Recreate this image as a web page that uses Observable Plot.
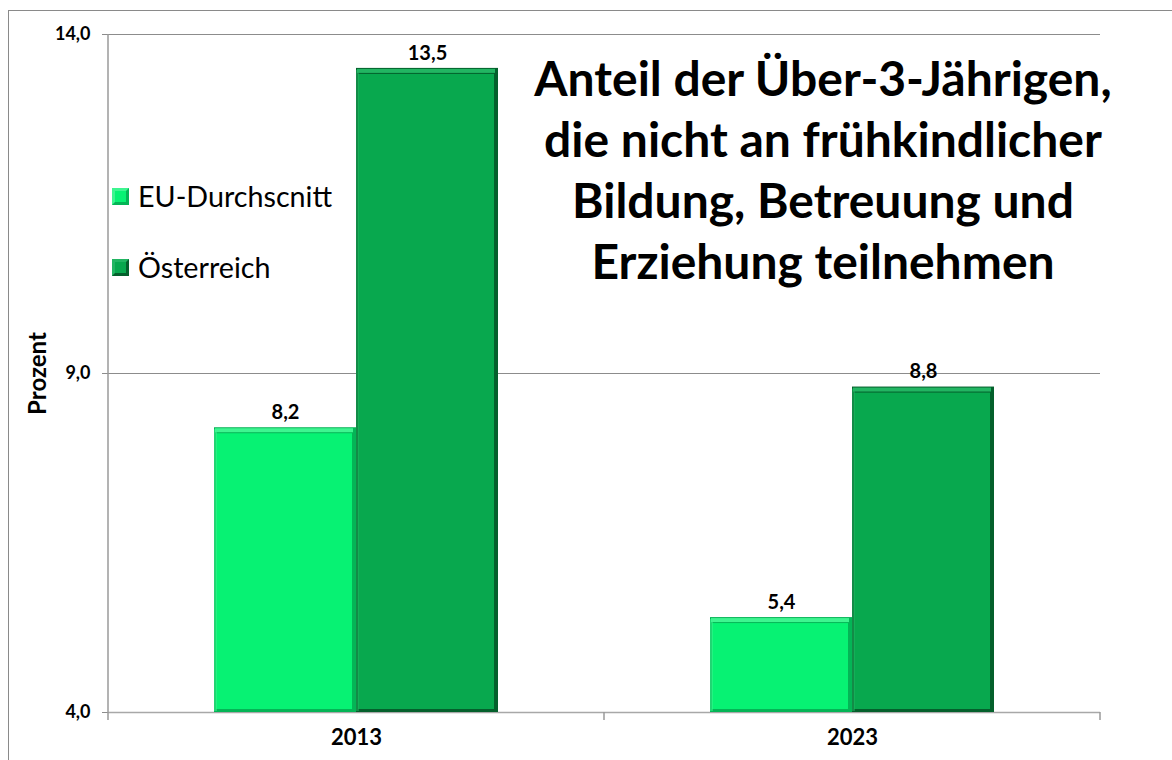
<!DOCTYPE html>
<html>
<head>
<meta charset="utf-8">
<script src="https://cdn.jsdelivr.net/npm/d3@7"></script>
<script src="https://cdn.jsdelivr.net/npm/@observablehq/plot@0.6"></script>
<style>
  html, body { margin: 0; padding: 0; background: #fff; overflow: hidden; }
  #wrap { position: relative; width: 1172px; height: 760px; font-family: Lato, "DejaVu Sans", sans-serif; }
  #frame { position: absolute; left: 8px; top: 10px; width: 1300px; height: 900px; border-left: 1.5px solid #8a8a8a; border-top: 1.5px solid #8a8a8a; }
  #chart { position: absolute; left: 0; top: 0; }
  #title { position: absolute; left: 423px; top: 47px; width: 800px; text-align: center; font-size: 48px; font-weight: bold; line-height: 61px; color: #000; }
  .leg { position: absolute; font-size: 28.7px; color: #000; line-height: 30px; }
  .sw { position: absolute; width: 17px; height: 17px; box-sizing: border-box; border-style: solid; border-width: 3px; }
  #chart svg g[aria-label="y-axis label"] text { font-size: 24px; font-weight: bold; }
  #chart svg g[aria-label="fx-axis tick label"] text { font-size: 22px; font-weight: bold; }
  #chart svg g[aria-label="text"] text { font-size: 20px; font-weight: bold; }
</style>
</head>
<body>
<div id="wrap">
  <div id="frame"></div>
  <div id="chart"></div>
  <div id="title">Anteil der Über-3-Jährigen,<br>die nicht an frühkindlicher<br>Bildung, Betreuung und<br>Erziehung teilnehmen</div>
</div>
<script>
const years = ["2013", "2023"];
const series = ["EU-Durchscnitt", "Österreich"];
const euValues = [8.2, 5.4];
const atValues = [13.5, 8.8];
const yTicks = [4, 9, 14];

const mainColor = {"EU-Durchscnitt": "#07f273", "Österreich": "#08a84e"};
const lightColor = {"EU-Durchscnitt": "#3ef590", "Österreich": "#22b562"};
const darkColor = {"EU-Durchscnitt": "#04b556", "Österreich": "#04602c"};

const data = [];
years.forEach((yr, i) => {
  data.push({year: yr, series: series[0], value: euValues[i]});
  data.push({year: yr, series: series[1], value: atValues[i]});
});
const fmt = v => v.toFixed(1).replace(".", ",");

const plot = Plot.plot({
  width: 1172,
  height: 760,
  marginLeft: 108,
  marginRight: 72,
  marginTop: 34,
  marginBottom: 48,
  style: {fontFamily: "Lato, 'DejaVu Sans', sans-serif", background: "transparent", overflow: "visible"},
  fx: {domain: years, padding: 0, label: null},
  x: {domain: series, paddingInner: 0, paddingOuter: 0.746, axis: null},
  y: {domain: [4, 14], axis: null},
  marks: [
    Plot.ruleY([9, 14], {stroke: "#8c8c8c", strokeWidth: 1.2}),
    Plot.ruleY([4], {stroke: "#a8a8a8", strokeWidth: 1.5}),
    Plot.barY(data, {fx: "year", x: "series", y1: 4, y2: "value", fill: d => darkColor[d.series]}),
    Plot.barY(data, {fx: "year", x: "series", y1: 4, y2: "value", fill: d => mainColor[d.series], insetLeft: 2, insetRight: 4, insetTop: 6, insetBottom: 3}),
    Plot.barY(data, {fx: "year", x: "series", y1: "value", y2: "value", fill: d => lightColor[d.series], insetLeft: 1, insetRight: 3, insetTop: 1, insetBottom: -5}),
    Plot.barY(data, {fx: "year", x: "series", y1: 4, y2: "value", fill: d => lightColor[d.series], fillOpacity: 0.5, insetLeft: 0, insetRight: 139, insetTop: 2, insetBottom: 1}),
    Plot.text(data, {fx: "year", x: "series", y: "value", text: d => fmt(d.value), dy: -15, fontSize: 20, fontWeight: "bold", fill: "#000"}),
    Plot.axisY({ticks: yTicks, tickFormat: fmt, tickSize: 6, tickPadding: 12, fontSize: 18, fontWeight: "bold", stroke: "#8c8c8c", label: null, fill: "#000"}),
    Plot.axisY({ticks: [], label: "Prozent", labelAnchor: "center", labelArrow: "none", labelOffset: 80, fontSize: 24, fontWeight: "bold", fill: "#000"}),
    Plot.axisFx({anchor: "bottom", tickSize: 0, tickPadding: 17, fontSize: 22, fontWeight: "bold", label: null, fill: "#000"})
  ]
});
document.getElementById("chart").appendChild(plot);

const svg = d3.select(plot);
// enforce tick label size
const tickTexts = yTicks.map(fmt);
svg.selectAll("text").filter(function() { return tickTexts.includes(this.textContent); })
  .style("font-size", "18px").style("font-weight", "bold");

// vertical axis line and category boundary ticks, positioned from the plot's scales
const fx = plot.scale("fx");
const y = plot.scale("y");
const yBottom = y.apply(4), yTop = y.apply(14);
const bounds = years.map(v => fx.apply(v)).concat([fx.apply(years[years.length - 1]) + fx.bandwidth]);
const g = svg.append("g").attr("stroke", "#9a9a9a").attr("stroke-width", 1.5);
g.append("line").attr("x1", bounds[0]).attr("x2", bounds[0]).attr("y1", yTop).attr("y2", yBottom + 8);
bounds.slice(1).forEach(b => {
  g.append("line").attr("x1", b).attr("x2", b).attr("y1", yBottom).attr("y2", yBottom + 8);
});

// legend
const wrap = document.getElementById("wrap");
const legPos = [{top: 188, text: 206}, {top: 259, text: 277}];
series.forEach((s, i) => {
  const sw = document.createElement("div");
  sw.className = "sw";
  sw.style.left = "112px";
  sw.style.top = legPos[i].top + "px";
  sw.style.background = mainColor[s];
  sw.style.borderColor = `${lightColor[s]} ${darkColor[s]} ${darkColor[s]} ${lightColor[s]}`;
  wrap.appendChild(sw);
  const t = document.createElement("div");
  t.className = "leg";
  t.style.left = "138px";
  t.style.top = (legPos[i].text - 25) + "px";
  t.textContent = s;
  wrap.appendChild(t);
});
</script>
</body>
</html>
